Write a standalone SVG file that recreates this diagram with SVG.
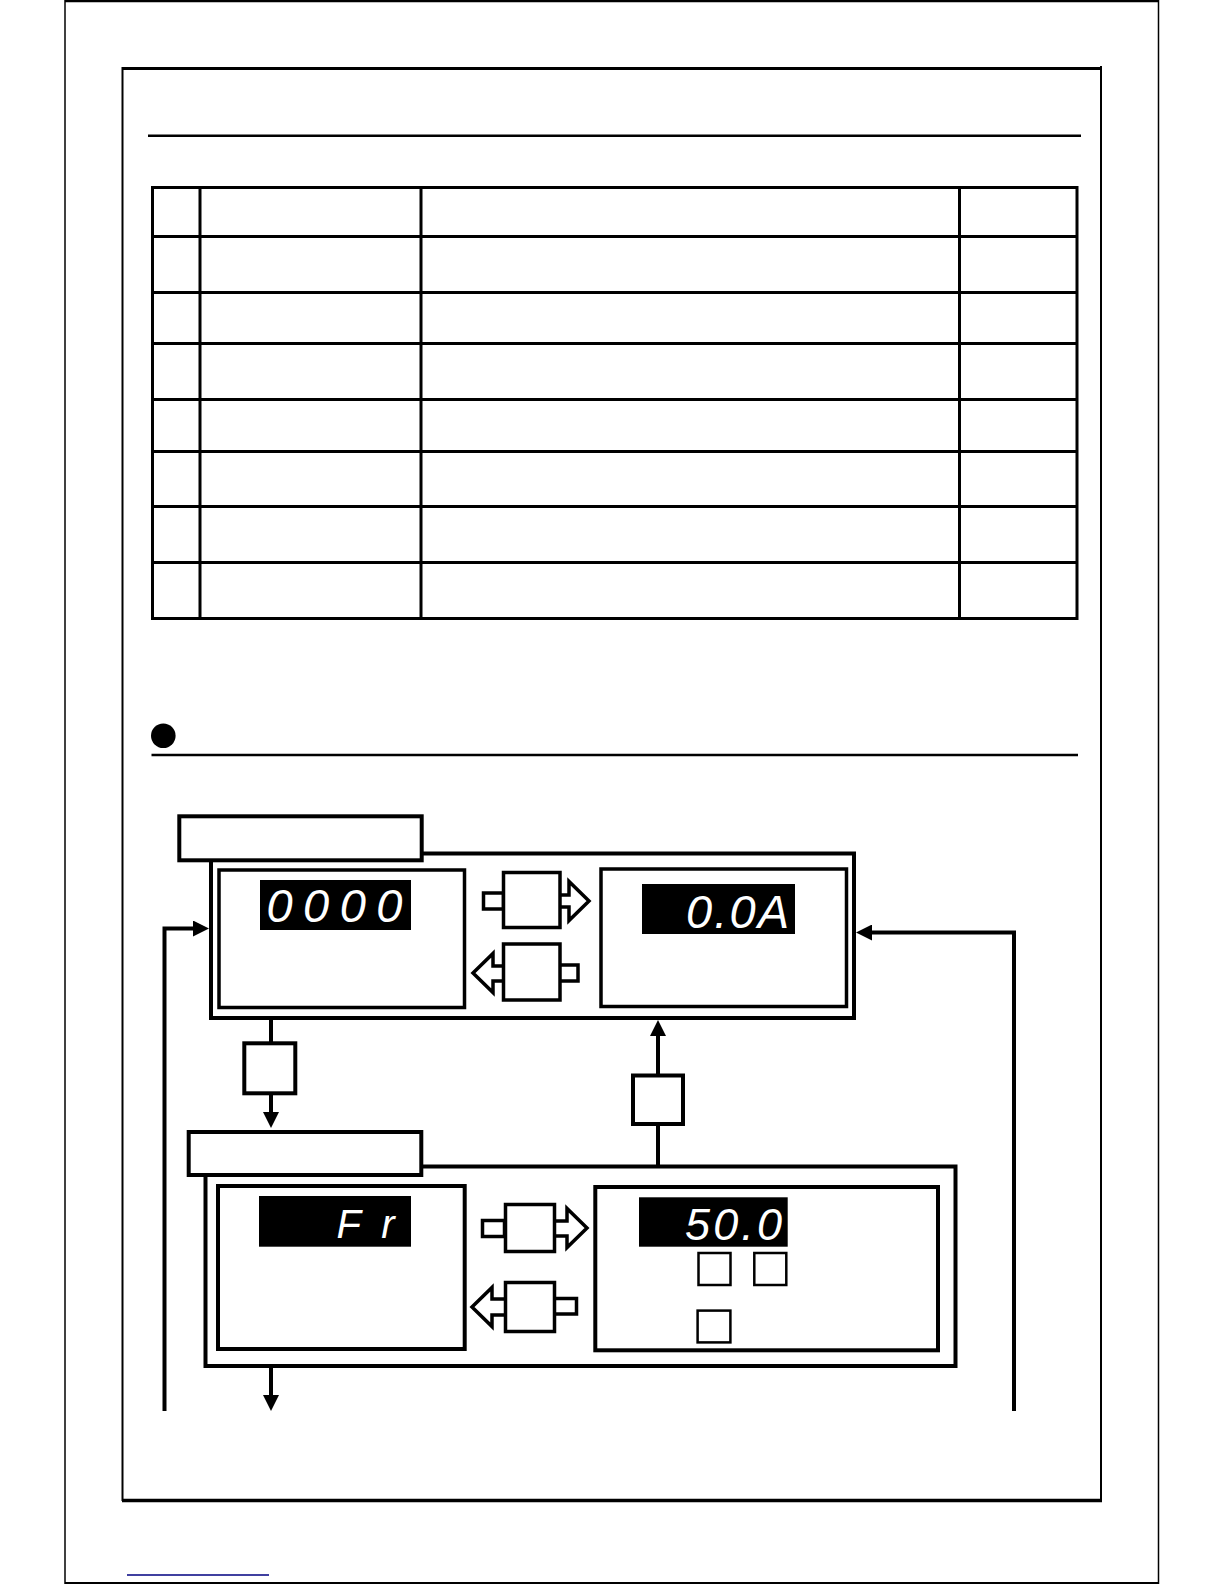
<svg xmlns="http://www.w3.org/2000/svg" width="1224" height="1584" viewBox="0 0 1224 1584">
<style>
.k{stroke:#000;fill:none}
.box{stroke:#000;fill:#fff;stroke-width:4}
.ibox{stroke:#000;fill:#fff;stroke-width:3.5}
.tb{stroke:#000;stroke-width:3}
.disp{fill:#000}
.seg{fill:#fff;font-family:"Liberation Sans",Arial,sans-serif;font-style:italic;font-weight:normal}
.btn{stroke:#000;fill:#fff;stroke-width:3.5}
.sq{stroke:#000;fill:#fff;stroke-width:2.5}
.con{stroke:#000;stroke-width:4;fill:none}
</style>
<defs>
<marker id="ah" viewBox="0 0 16 16" refX="6" refY="8" markerWidth="16" markerHeight="16" markerUnits="userSpaceOnUse" orient="auto">
<path d="M0,0 L16,8 L0,16 z" fill="#000"/>
</marker>
</defs>
<rect width="1224" height="1584" fill="#fff"/>
<!-- page frames -->
<g id="page">
<line x1="65" y1="1" x2="1158.5" y2="1" class="k" stroke-width="2.5"/>
<line x1="65" y1="0" x2="65" y2="1584" class="k" stroke-width="1.5"/>
<line x1="1158.5" y1="0" x2="1158.5" y2="1584" class="k" stroke-width="1.5"/>
<line x1="65" y1="1583" x2="1158.5" y2="1583" class="k" stroke-width="2"/>
<line x1="122" y1="68.5" x2="1102" y2="68.5" class="k" stroke-width="3"/>
<line x1="122.5" y1="67" x2="122.5" y2="1501" class="k" stroke-width="2"/>
<line x1="1101" y1="66" x2="1101" y2="1501" class="k" stroke-width="2"/>
<line x1="122" y1="1500.5" x2="1102" y2="1500.5" class="k" stroke-width="3.5"/>
<line x1="148" y1="135.7" x2="1081" y2="135.7" class="k" stroke-width="2.5"/>
<line x1="127" y1="1575" x2="269" y2="1575" stroke="#000080" stroke-width="1.5"/>
</g>
<!-- table -->
<g id="table">
<line x1="151" y1="187.5" x2="1078" y2="187.5" class="tb" stroke-width="3.5"/>
<line x1="151" y1="236.5" x2="1078" y2="236.5" class="tb"/>
<line x1="151" y1="292.5" x2="1078" y2="292.5" class="tb"/>
<line x1="151" y1="343.5" x2="1078" y2="343.5" class="tb"/>
<line x1="151" y1="399.5" x2="1078" y2="399.5" class="tb"/>
<line x1="151" y1="451.5" x2="1078" y2="451.5" class="tb"/>
<line x1="151" y1="506.5" x2="1078" y2="506.5" class="tb"/>
<line x1="151" y1="562.5" x2="1078" y2="562.5" class="tb"/>
<line x1="151" y1="618.5" x2="1078" y2="618.5" class="tb" stroke-width="3.5"/>
<line x1="152.5" y1="186" x2="152.5" y2="620" class="tb" stroke-width="2.5"/>
<line x1="200" y1="186" x2="200" y2="620" class="tb" stroke-width="2.5"/>
<line x1="421" y1="186" x2="421" y2="620" class="tb" stroke-width="2.5"/>
<line x1="959.5" y1="186" x2="959.5" y2="620" class="tb" stroke-width="2.5"/>
<line x1="1077" y1="186" x2="1077" y2="620" class="tb" stroke-width="2.5"/>
</g>
<!-- section heading -->
<g id="heading">
<circle cx="163.3" cy="735.7" r="12.3" fill="#000"/>
<line x1="151.5" y1="755" x2="1078" y2="755" class="k" stroke-width="2.5"/>
</g>
<!-- connectors -->
<g id="connectors">
<polyline points="164.5,1411 164.5,928.5 199,928.5" class="con" marker-end="url(#ah)"/>
<polyline points="1014,1411 1014,932.5 866,932.5" class="con" marker-end="url(#ah)"/>
<line x1="271" y1="1020" x2="271" y2="1043" class="con"/>
<line x1="271" y1="1093" x2="271" y2="1118" class="con" marker-end="url(#ah)"/>
<line x1="658" y1="1165" x2="658" y2="1124" class="con"/>
<line x1="658" y1="1075" x2="658" y2="1030" class="con" marker-end="url(#ah)"/>
<line x1="271" y1="1368" x2="271" y2="1401" class="con" marker-end="url(#ah)"/>
</g>
<!-- mode 1 panel -->
<g id="panel1">
<rect x="211" y="853.5" width="643" height="164.5" class="box"/>
<rect x="179.3" y="816.3" width="242.4" height="44" class="box"/>
</g>
<g id="display1">
<rect x="219" y="870" width="245.5" height="137.5" class="ibox"/>
<rect x="260" y="880" width="151" height="50" class="disp"/>
<text x="266.5" y="921.5" font-size="47" class="seg" textLength="136" lengthAdjust="spacing">0000</text>
</g>
<g id="display2">
<rect x="601" y="869" width="245.5" height="137.5" class="ibox"/>
<rect x="642" y="884" width="153" height="50" class="disp"/>
<text x="686" y="927.5" font-size="47" class="seg" textLength="103" lengthAdjust="spacing">0.0A</text>
</g>
<g id="key1">
<rect x="483.5" y="893" width="20" height="16" class="btn"/>
<polygon points="558,895 569,895 569,881.5 589,901 569,920.5 569,907 558,907" class="btn"/>
<rect x="503.5" y="872.5" width="56.5" height="55" class="btn"/>
</g>
<g id="key2">
<rect x="558" y="965" width="20" height="16" class="btn"/>
<polygon points="505,966 493,966 493,953.5 473,973 493,992.5 493,981 505,981" class="btn"/>
<rect x="503.5" y="944" width="56.5" height="56" class="btn"/>
</g>
<g id="keyA">
<rect x="244.3" y="1043.3" width="51" height="50" class="box"/>
</g>
<g id="keyB">
<rect x="633" y="1075.5" width="50" height="48.5" class="box"/>
</g>
<!-- mode 2 panel -->
<g id="panel2">
<rect x="205.5" y="1166.5" width="750" height="199.5" class="box"/>
<rect x="188.7" y="1132" width="232.6" height="43" class="box"/>
</g>
<g id="display3">
<rect x="218" y="1186" width="246.7" height="163" class="box"/>
<rect x="259" y="1196" width="152" height="50.7" class="disp"/>
<text x="336.5" y="1238" font-size="40" class="seg" textLength="58" lengthAdjust="spacing">Fr</text>
</g>
<g id="display4">
<rect x="595.3" y="1187" width="342.7" height="163.3" class="box"/>
<rect x="639" y="1197.3" width="148.7" height="49.4" class="disp"/>
<text x="685" y="1240" font-size="45" class="seg" textLength="97" lengthAdjust="spacing">50.0</text>
<rect x="698.5" y="1253" width="32" height="32" class="sq"/>
<rect x="754.3" y="1253" width="32" height="32" class="sq"/>
<rect x="697.6" y="1310.6" width="32.8" height="31.8" class="sq"/>
</g>
<g id="key3">
<rect x="482.5" y="1220.5" width="22" height="16" class="btn"/>
<polygon points="553,1221 567,1221 567,1208.5 587,1228 567,1247.5 567,1236 553,1236" class="btn"/>
<rect x="505.5" y="1204.5" width="49" height="47" class="btn"/>
</g>
<g id="key4">
<rect x="553" y="1298.5" width="23.5" height="15.5" class="btn"/>
<polygon points="507,1299 492,1299 492,1287.5 472,1307 492,1326.5 492,1315 507,1315" class="btn"/>
<rect x="505.5" y="1282.5" width="49" height="49" class="btn"/>
</g>
</svg>
